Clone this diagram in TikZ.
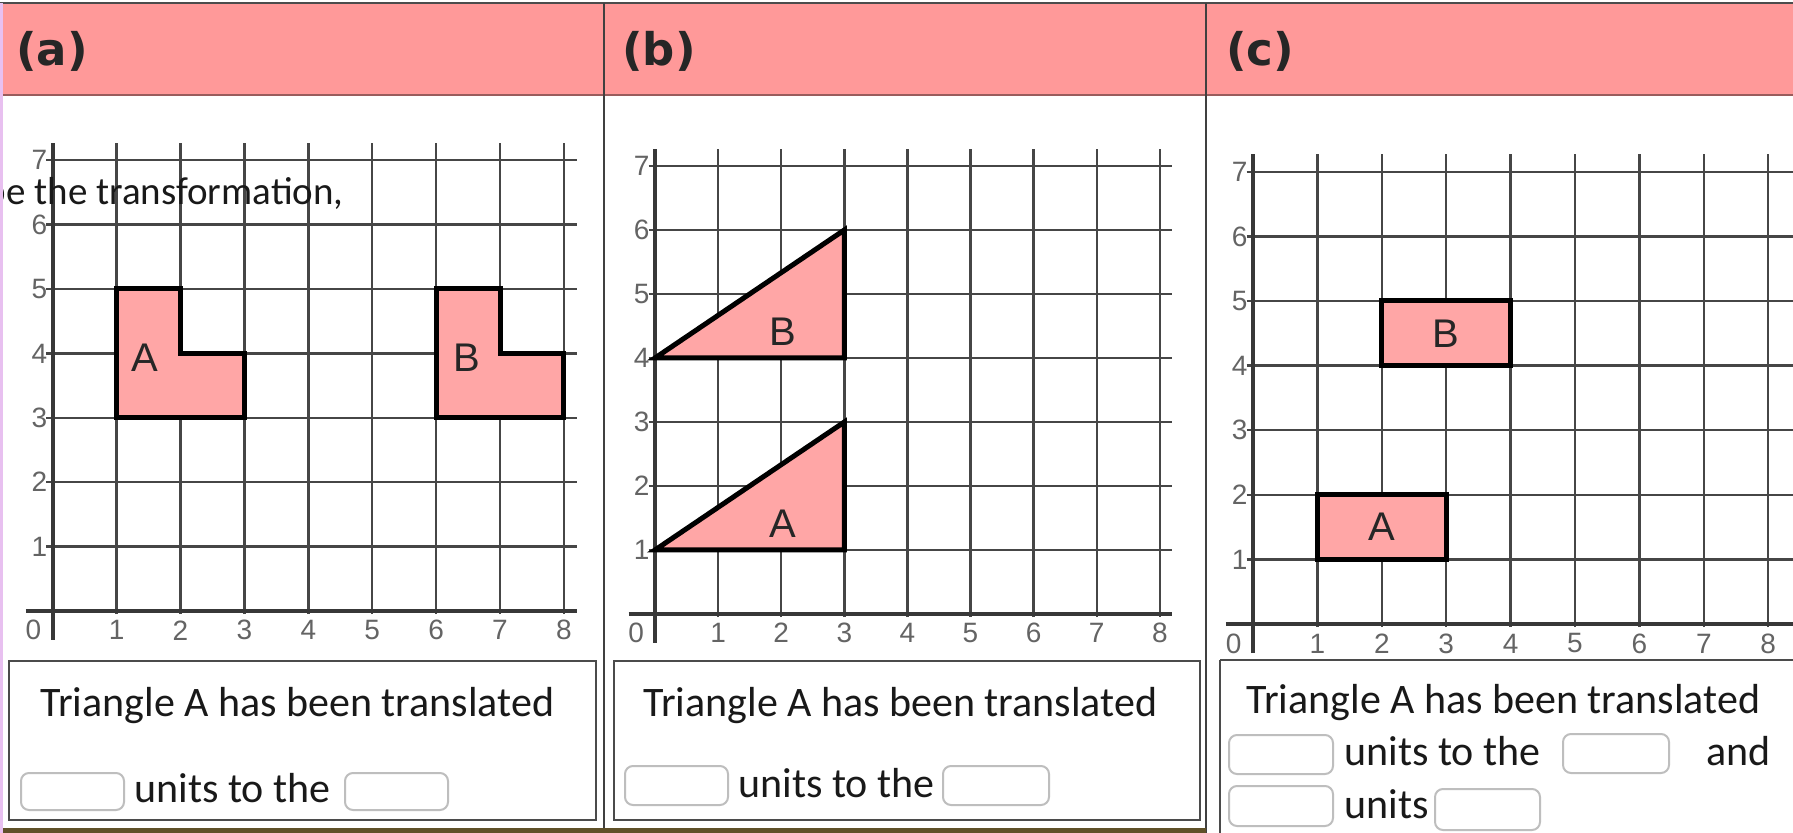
\documentclass[tikz,border=0pt]{standalone}
\usepackage{fontspec}
\setmainfont{Carlito}
\newfontfamily\arialf{Liberation Sans}
\newfontfamily\hdrf{DejaVu Sans}
\definecolor{hdrpink}{RGB}{255,153,153}
\definecolor{shapepink}{RGB}{255,166,166}
\definecolor{gridc}{RGB}{70,70,70}
\definecolor{labelc}{RGB}{100,100,100}
\definecolor{boxc}{RGB}{75,75,75}
\definecolor{fieldc}{RGB}{190,190,190}
\definecolor{lav}{RGB}{232,192,240}
\definecolor{txtc}{RGB}{25,25,25}
\definecolor{bandc}{RGB}{95,80,40}
\newcommand\mkgrid[2]{% #1 name prefix, #2 right end of horizontal lines
  \foreach \i in {1,...,8} \draw[gridline] (\i,-0.05) -- (\i,7.27);
  \foreach \j in {1,...,7} \draw[gridline] (-0.1,\j) -- (#2,\j);
  \draw[axisline] (-0.42,0) -- (#2,0);
  \draw[axisline] (0,-0.45) -- (0,7.27);
  \foreach \i in {1,...,8} \node[xlab] (#1x\i) at (\i,-0.3) {\i};
  \node[xlab] (#1x0) at (-0.3,-0.3) {0};
  \foreach \j in {1,...,7} \node[ylab] (#1y\j) at (-0.08,\j) {\j};
}
\begin{document}
\begin{tikzpicture}[x=0.5pt,y=-0.5pt,
  gridline/.style={draw=gridc,line width=1.2pt},
  axisline/.style={draw=gridc!80!black,line width=1.8pt},
  xlab/.style={font=\arialf\fontsize{14pt}{15pt}\selectfont,text=labelc,inner sep=0pt},
  ylab/.style={xlab,anchor=east},
  shapeln/.style={draw=black,fill=shapepink,line width=2.5pt,line join=miter},
  shlab/.style={font=\arialf\fontsize{20pt}{22pt}\selectfont,text=black!85,inner sep=0pt},
  hdr/.style={font=\hdrf\bfseries\fontsize{22.5pt}{25pt}\selectfont,text=black!85,anchor=west,inner sep=0pt},
  bodytxt/.style={font=\fontsize{21pt}{24pt}\selectfont,text=txtc,anchor=base west,inner sep=0pt},
  ansbox/.style={draw=boxc,line width=1pt},
  field/.style={draw=fieldc,fill=white,line width=1pt,rounded corners=4pt},
  gA/.style={shift={(52.7,611)},x={(31.95pt,0pt)},y={(0pt,32.2pt)}},
  gB/.style={shift={(655,614)},x={(31.55pt,0pt)},y={(0pt,32pt)}},
  gC/.style={shift={(1253,624)},x={(32.2pt,0pt)},y={(0pt,32.3pt)}}]
\useasboundingbox (0,0) rectangle (1793,833);
\fill[white] (0,0) rectangle (1793,833);
% header band
\fill[hdrpink] (0,3) rectangle (1793,95);
\draw[draw=black!70,line width=1pt] (0,3) -- (1793,3);
\draw[draw=hdrpink!60!black,line width=1pt] (0,95) -- (1793,95);
\node[hdr] (ha) at (16,51) {(a)};
\node[hdr] (hb) at (622,51) {(b)};
\node[hdr] (hc) at (1226,51) {(c)};
% panel dividers
\draw[draw=black!75,line width=1pt] (604,3) -- (604,833);
\draw[draw=black!75,line width=1pt] (1206,3) -- (1206,833);
% ---------- panel (a)
\begin{scope}[gA]
  \mkgrid{a}{8.2}
  \draw[shapeln] (1,3) -- (1,5) -- (2,5) -- (2,4) -- (3,4) -- (3,3) -- cycle;
  \draw[shapeln] (6,3) -- (6,5) -- (7,5) -- (7,4) -- (8,4) -- (8,3) -- cycle;
  \node[shlab] (aA) at (1.44,3.94) {A};
  \node[shlab] (aB) at (6.48,3.94) {B};
\end{scope}
\begin{scope}
  \clip (2.5,96) rectangle (600,300);
  \node[bodytxt,font=\fontsize{19.5pt}{22pt}\selectfont] (atext) at (-14.5,205) {be the transformation,};
\end{scope}
\draw[ansbox] (9,661) rectangle (596,820);
\node[bodytxt] (at1) at (40,716) {Triangle A has been translated};
\draw[field] (21,773) rectangle (124,810);
\node[bodytxt] (at2) at (134,802) {units to the};
\draw[field] (345,773) rectangle (448,810);
% ---------- panel (b)
\begin{scope}[gB]
  \mkgrid{b}{8.2}
  \draw[shapeln] (0,4) -- (3,4) -- (3,6) -- cycle;
  \draw[shapeln] (0,1) -- (3,1) -- (3,3) -- cycle;
  \node[shlab] (bB) at (2.03,4.41) {B};
  \node[shlab] (bA) at (2.03,1.41) {A};
\end{scope}
\draw[ansbox] (614,661) rectangle (1200,820);
\node[bodytxt] (bt1) at (643,716) {Triangle A has been translated};
\draw[field] (625,766) rectangle (728,805);
\node[bodytxt] (bt2) at (738,797) {units to the};
\draw[field] (943,766) rectangle (1049,805);
% ---------- panel (c)
\begin{scope}[gC]
  \mkgrid{c}{8.45}
  \draw[shapeln] (2,4) rectangle (4,5);
  \draw[shapeln] (1,1) rectangle (3,2);
  \node[shlab] (cB) at (3,4.5) {B};
  \node[shlab] (cA) at (2,1.5) {A};
\end{scope}
\draw[ansbox] (1220,660) -- (1800,660);
\draw[ansbox] (1220,660) -- (1220,840);
\node[bodytxt] (ct1) at (1246,713) {Triangle A has been translated};
\draw[field] (1229,735) rectangle (1333,774);
\node[bodytxt] (ct2) at (1344,765) {units to the};
\draw[field] (1563,734) rectangle (1669,773);
\node[bodytxt] (ct3) at (1706,765) {and};
\draw[field] (1229,786) rectangle (1333,826);
\node[bodytxt] (ct4) at (1344,818) {units};
\draw[field] (1435,789) rectangle (1540,830);
% bottom band and left strip
\fill[bandc] (2.5,828) rectangle (1206,833);
\fill[lav] (0,3) rectangle (2.5,833);
\end{tikzpicture}
\end{document}
